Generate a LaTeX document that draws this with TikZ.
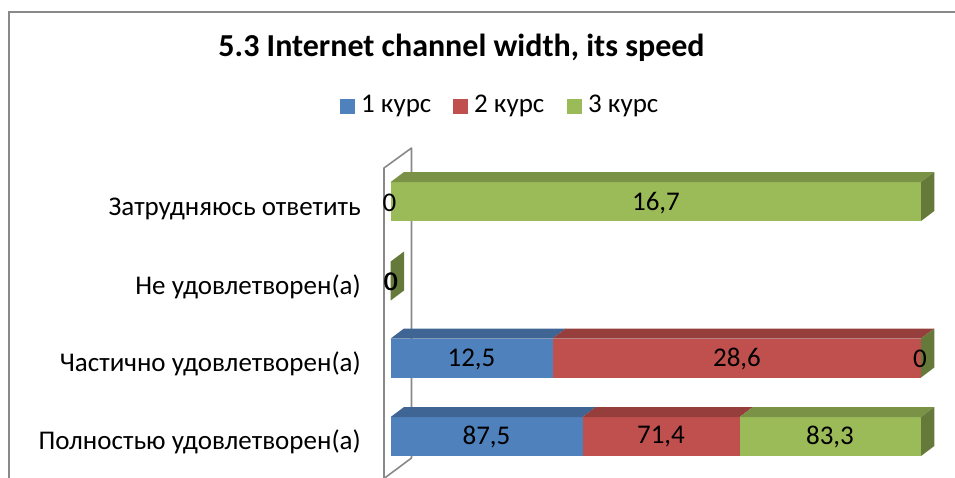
\documentclass[tikz,border=0pt]{standalone}
\usepackage{fontspec}
\setmainfont{Carlito}
\definecolor{c1}{HTML}{4F81BD}
\definecolor{c2}{HTML}{C0504D}
\definecolor{c3}{HTML}{9BBB59}
\definecolor{framec}{HTML}{898989}
\tikzset{
  lbl/.style={font=\fontsize{27}{32}\selectfont, inner sep=0pt},
  cat/.style={lbl, anchor=east},
  ttl/.style={font=\fontsize{32}{38}\selectfont\bfseries, inner sep=0pt},
  legsq/.style={minimum size=15pt, inner sep=0pt},
  wall/.style={draw=framec, line width=1.6pt, fill=white, line join=round},
}
\newcommand{\barseg}[4]{% x0 x1 ytop colour
  \fill[#4] (#1,#3) rectangle (#2,#3+39);
  \fill[#4!78!black] (#1,#3) -- (#1+13.3,#3-10) -- (#2+13.3,#3-10) -- (#2,#3) -- cycle;
}
\newcommand{\barside}[3]{% x ytop colour
  \fill[#3!65!black] (#1,#2) -- (#1+13.3,#2-10) -- (#1+13.3,#2+29) -- (#1,#2+39) -- cycle;
}
\begin{document}
\begin{tikzpicture}[x=1pt,y=-1pt]
\useasboundingbox (0,0) rectangle (955,477);
\begin{scope}
\clip (0,0) rectangle (955,477);
\draw[framec, line width=2pt] (8.5,480) -- (8.5,11.5) -- (960,11.5);
% wall
\draw[wall] (384,480) -- (384,168) -- (411.5,148) -- (411.5,458) -- (384,478.5);
\end{scope}
% title
\node[ttl] (title) at (461.5,48) {5.3 Internet channel width, its speed};
% legend
\node[legsq, fill=c1] (sq1) at (347,106) {};
\node[lbl, anchor=west] (l1) at (361,106) {1 курс};
\node[legsq, fill=c2] (sq2) at (460.5,106) {};
\node[lbl, anchor=west] (l2) at (474,106) {2 курс};
\node[legsq, fill=c3] (sq3) at (574.5,106) {};
\node[lbl, anchor=west] (l3) at (588,106) {3 курс};
% row 1
\barseg{390.7}{921}{182}{c3}
\barside{921}{182}{c3}
% row 2
\barside{390.7}{261.5}{c3}
% row 3
\barseg{390.7}{552.5}{338.5}{c1}
\barseg{552.5}{921}{338.5}{c2}
\barside{921}{338.5}{c3}
% row 4
\barseg{390.7}{582.5}{417}{c1}
\barseg{582.5}{739.5}{417}{c2}
\barseg{739.5}{921}{417}{c3}
\barside{921}{417}{c3}
% category labels
\node[cat] (k1) at (361,209) {Затрудняюсь ответить};
\node[cat] (k2) at (361,287) {Не удовлетворен(а)};
\node[cat] (k3) at (361,364) {Частично удовлетворен(а)};
\node[cat] (k4) at (361,442) {Полностью удовлетворен(а)};
% data labels
\node[lbl] (d10) at (389.5,203) {0};
\node[lbl] (d13) at (656,203) {16,7};
\node[lbl] (d20) at (390.5,282) {0};
\node[lbl] (d20b) at (391.3,282) {0};
\node[lbl] (d31) at (471.5,359) {12,5};
\node[lbl] (d32) at (737,359) {28,6};
\node[lbl] (d33) at (920,359) {0};
\node[lbl] (d41) at (486.5,437) {87,5};
\node[lbl] (d42) at (661,437) {71,4};
\node[lbl] (d43) at (830,437) {83,3};
\end{tikzpicture}
\end{document}
